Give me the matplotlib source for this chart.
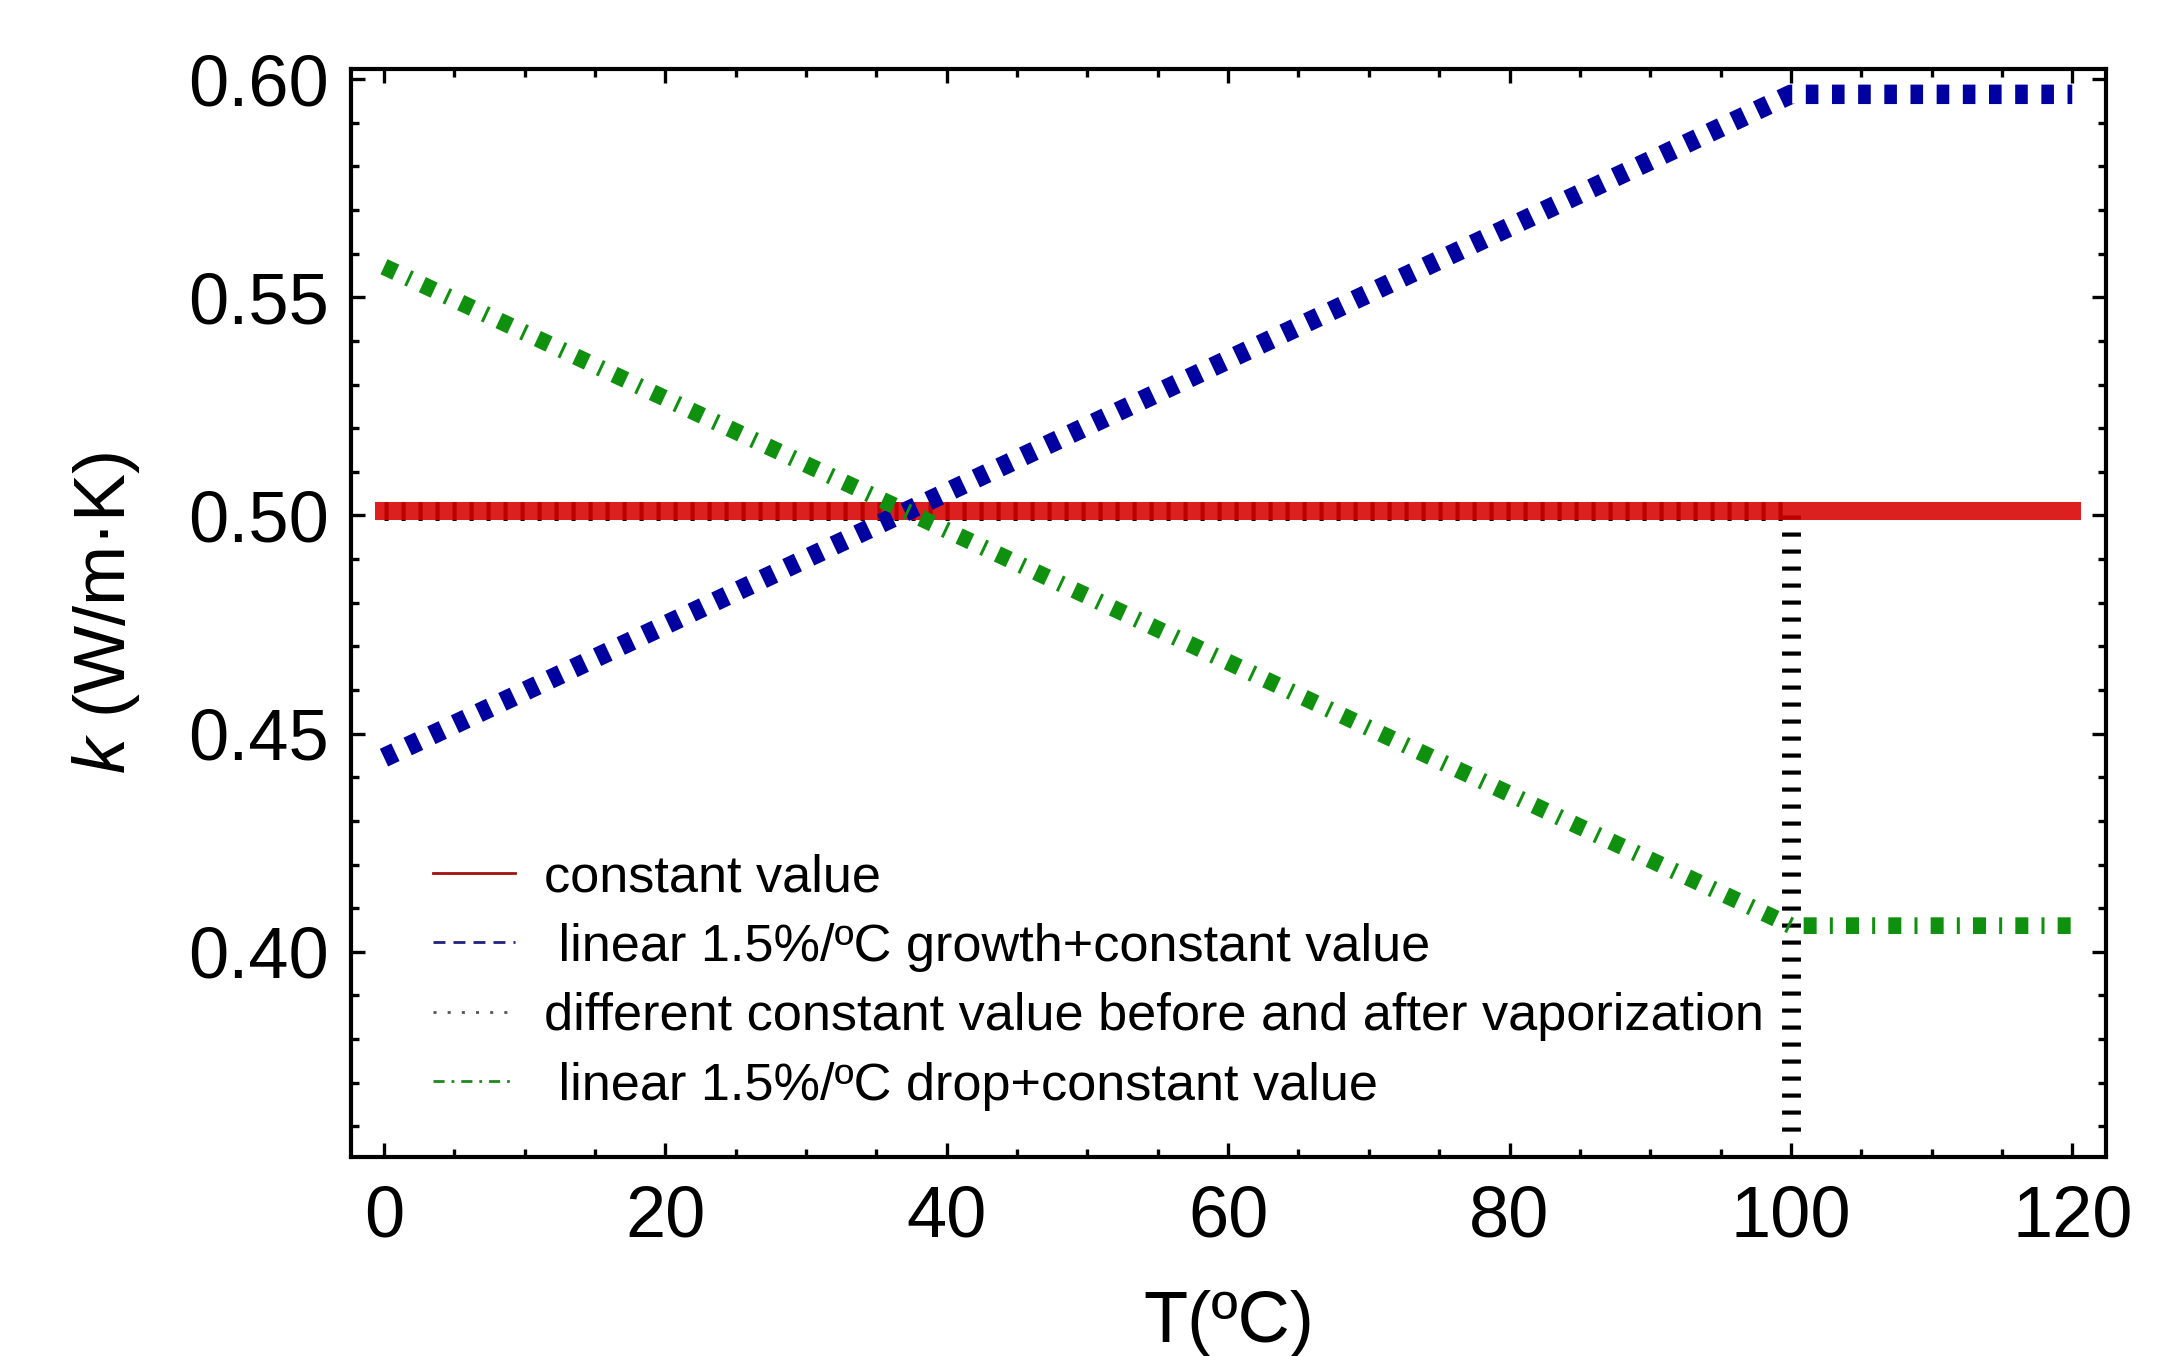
import matplotlib
matplotlib.use('Agg')
import matplotlib.pyplot as plt
from matplotlib.lines import Line2D
from matplotlib.ticker import MultipleLocator, FixedLocator, FormatStrFormatter

# ---- data ----
T_const = [0, 120]
k_const = [0.501, 0.501]

T_growth = [0, 100, 120]
k_growth = [0.4445, 0.5965, 0.5965]

T_vapor = [0, 100, 100]
k_vapor = [0.501, 0.501, 0.358]

T_drop = [0, 100, 120]
k_drop = [0.557, 0.406, 0.406]

labels = ["constant value",
          " linear 1.5%/\u00baC growth+constant value",
          "different constant value before and after vaporization",
          " linear 1.5%/\u00baC drop+constant value"]

x_ticks = [0, 20, 40, 60, 80, 100, 120]
y_ticks = [0.40, 0.45, 0.50, 0.55, 0.60]
x_label = "T(\u00baC)"
y_label = "$k$ (W/m\u00b7K)"

# ---- style ----
plt.rcParams['font.family'] = ['Liberation Sans', 'DejaVu Sans']
plt.rcParams['mathtext.fontset'] = 'custom'
plt.rcParams['mathtext.rm'] = 'Liberation Sans'
plt.rcParams['mathtext.it'] = 'Liberation Sans:italic'

DPI = 200
fig = plt.figure(figsize=(2177 / DPI, 1356 / DPI), dpi=DPI)
ax = fig.add_axes([0.1612, 0.1468, 0.8062, 0.8023])

red = '#d80000'
blue = '#0000a0'
green = '#10900f'

# black dotted (under red)
ax.plot(T_vapor, k_vapor, color='black', lw=6.8, dashes=(0.22, 0.68),
        dash_capstyle='butt', zorder=2)
# red constant
ax.plot(T_const, k_const, color=red, lw=6.5, alpha=0.88,
        solid_capstyle='projecting', zorder=3)
# blue growth
ax.plot(T_growth, k_growth, color=blue, lw=7.0, dashes=(0.648, 0.698),
        dash_capstyle='butt', zorder=4)
# green drop
ax.plot(T_drop, k_drop, color=green, lw=6.0, dashes=(0.78, 0.79, 0.18, 0.79),
        dash_capstyle='butt', zorder=4)

ax.set_xlim(-2.35, 122.4)
ax.set_ylim(0.353, 0.6023)

ax.xaxis.set_major_locator(FixedLocator(x_ticks))
ax.xaxis.set_minor_locator(MultipleLocator(5))
ax.yaxis.set_major_locator(FixedLocator(y_ticks))
ax.yaxis.set_minor_locator(MultipleLocator(0.01))
ax.yaxis.set_major_formatter(FormatStrFormatter('%.2f'))

ax.tick_params(which='both', direction='in', top=True, right=True,
               width=1.2, color='black')
ax.tick_params(which='major', length=5, labelsize=26)
ax.tick_params(axis='x', which='major', pad=10)
ax.tick_params(axis='y', which='major', pad=8)
ax.tick_params(which='minor', length=2.8)
for s in ax.spines.values():
    s.set_linewidth(1.5)

ax.set_xlabel(x_label, fontsize=26)
ax.xaxis.set_label_coords(0.5, -0.122)
ax.set_ylabel(y_label, fontsize=26)
ax.yaxis.set_label_coords(-0.119, 0.5)

handles = [
    Line2D([], [], color='#a01010', lw=1.0),
    Line2D([], [], color='#202080', lw=1.0, dashes=(4.3, 2.9)),
    Line2D([], [], color='#555555', lw=1.0, dashes=(1.1, 4)),
    Line2D([], [], color='#1e8a1e', lw=1.0, dashes=(4, 2.5, 1, 2.5)),
]
ax.legend(handles, labels, loc='upper left', bbox_to_anchor=(0.047, 0.279),
          frameon=False, fontsize=18.8, handlelength=1.57, handletextpad=0.55,
          labelspacing=0.39, borderaxespad=0, borderpad=0)

fig.savefig('out.png', dpi=DPI)
